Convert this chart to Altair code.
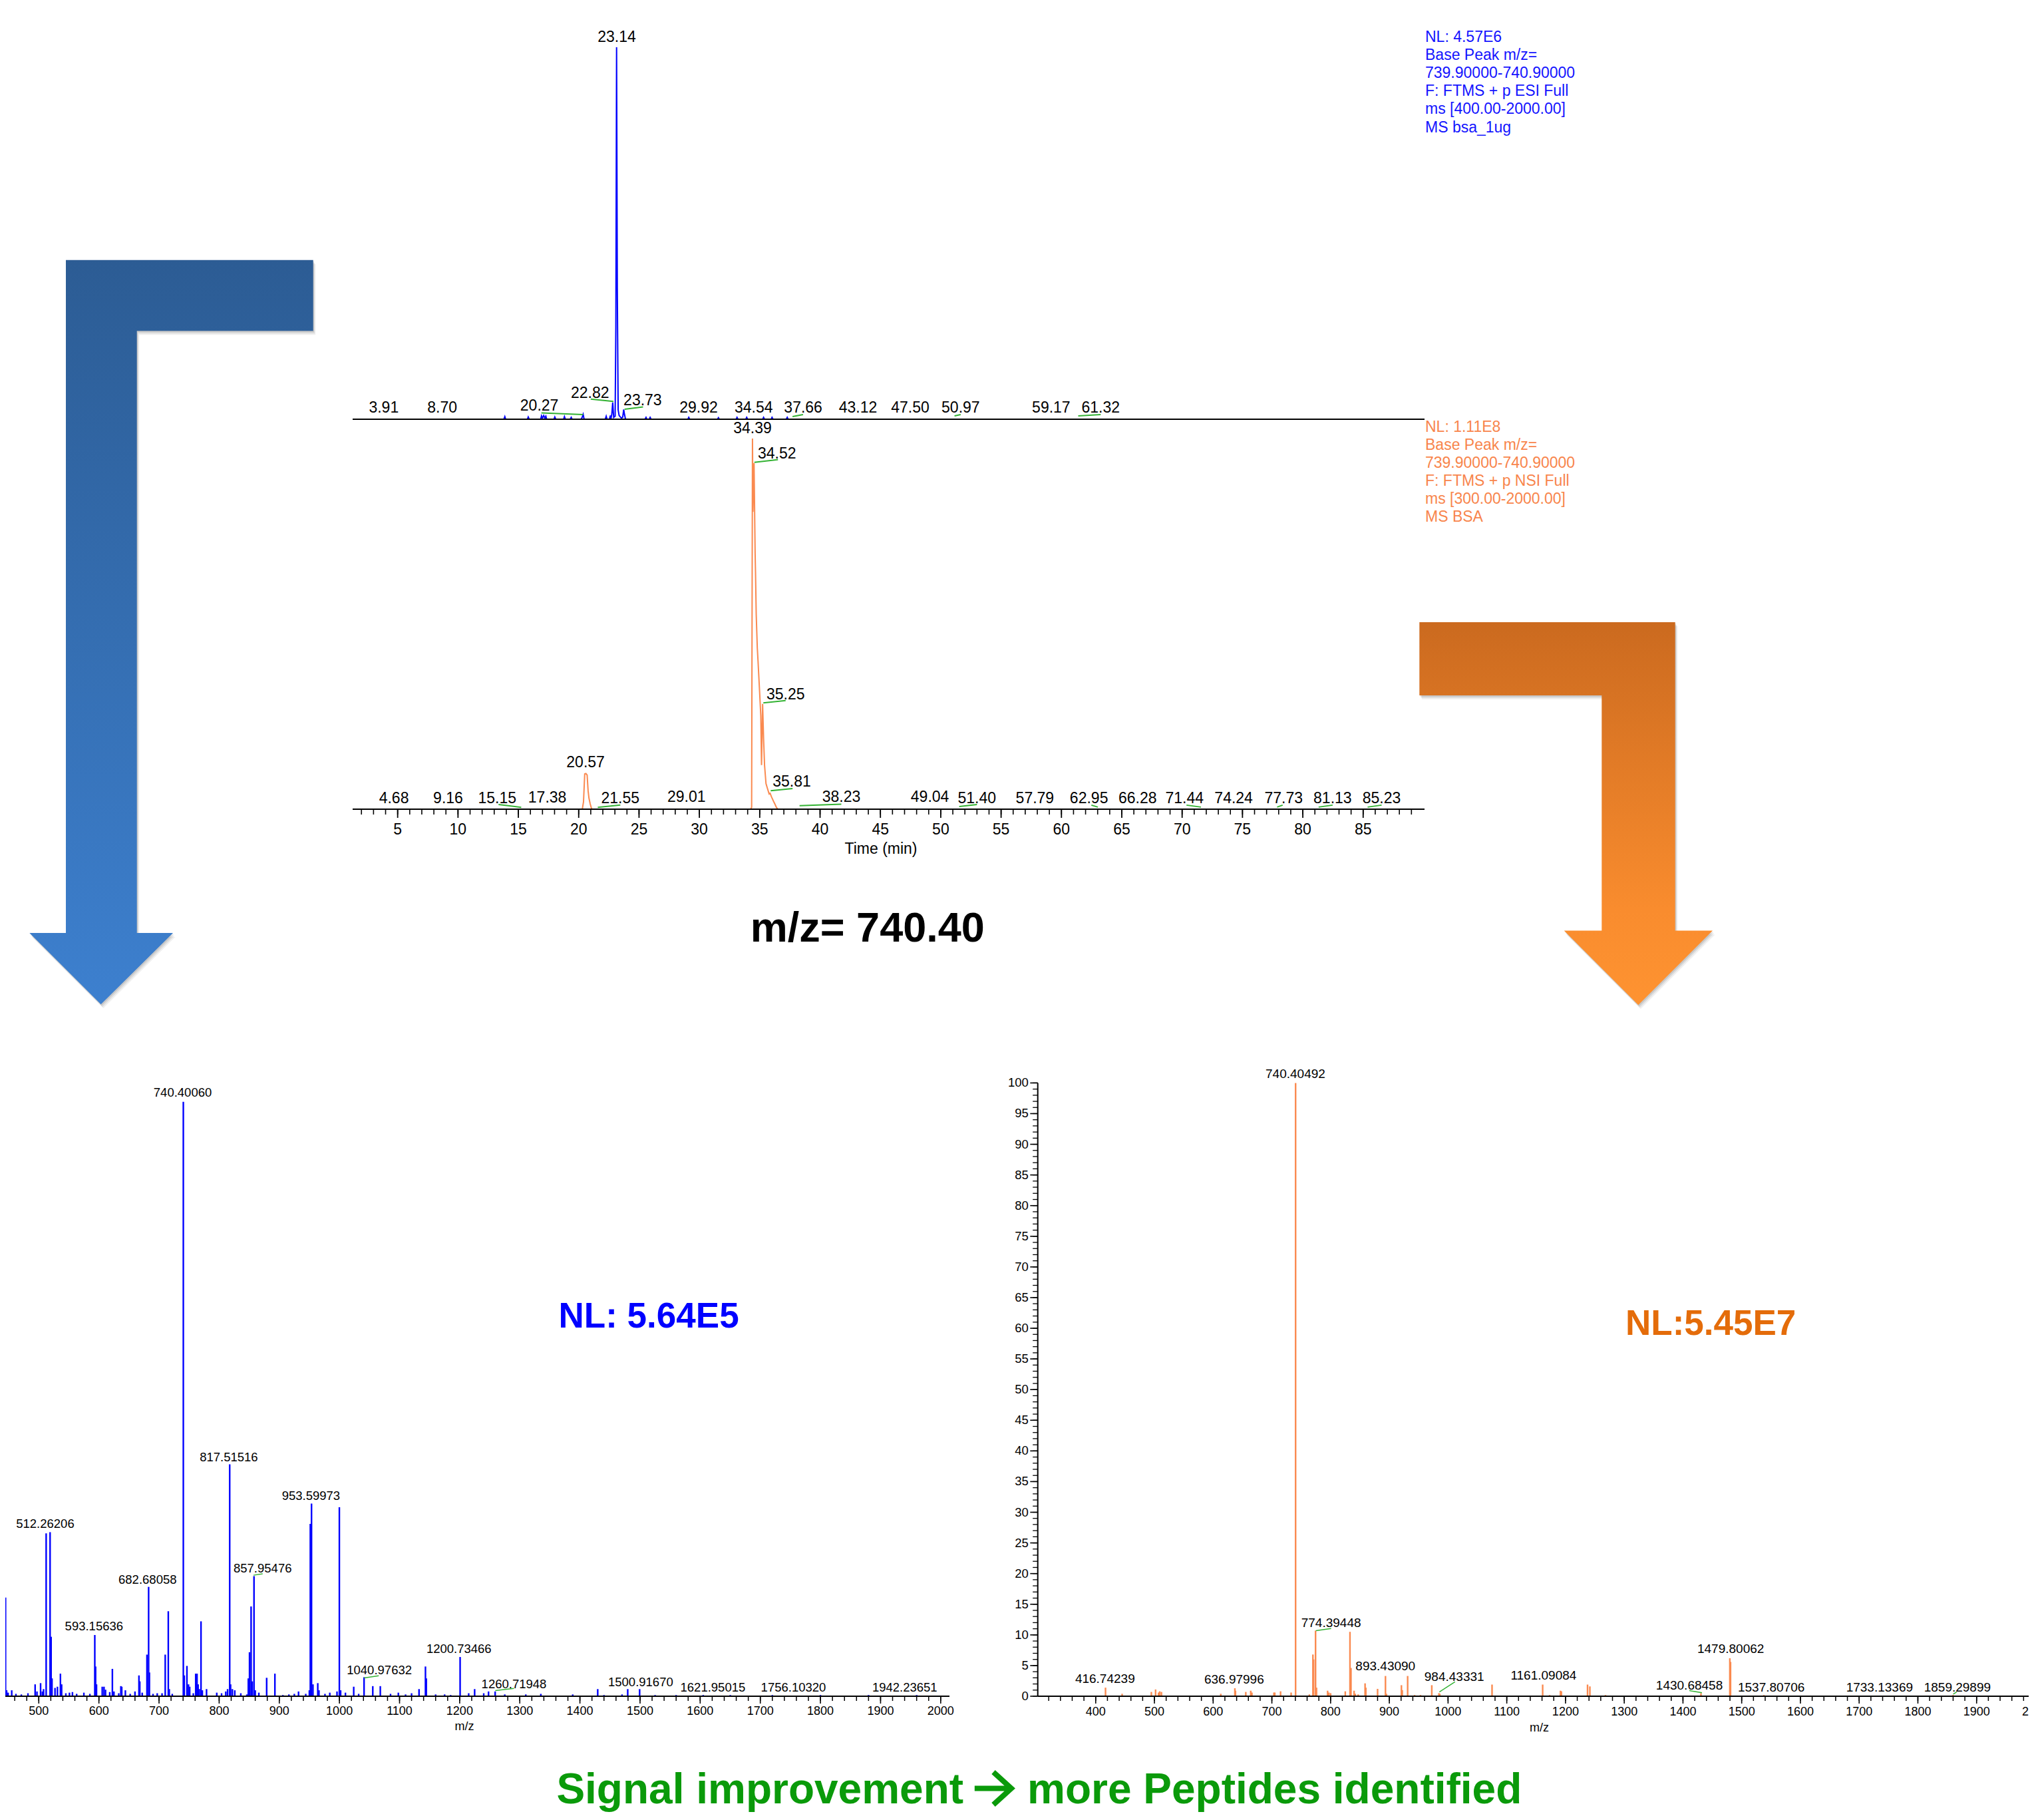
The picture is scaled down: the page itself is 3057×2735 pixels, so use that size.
import altair as alt
import pandas as pd

OFF = 8
W, H = 3041, 2719
FONT = "Liberation Sans"
BLUE = "#0000ff"
BLUE_TXT = "#1414ff"
ORANGE = "#fa8a50"
ORANGE_TXT = "#f8854c"
LEAD = "#33b233"
GREEN = "#0a9a0a"

# ---------------- data ----------------
# chromatogram traces (time in min, relative abundance %)
BLUE_T = [1.3, 13.80, 13.88, 13.95, 15.75, 15.82, 15.90, 16.85, 16.92, 17.00, 17.10, 17.20, 17.28, 17.35,
          17.95, 18.02, 18.10, 18.75, 18.82, 18.90, 19.30, 19.38, 19.45, 20.20, 20.30, 20.37, 20.45,
          22.20, 22.28, 22.35, 22.55, 22.62, 22.68, 22.75, 22.82, 22.90, 23.02, 23.08, 23.14, 23.20,
          23.27, 23.35, 23.45, 23.55, 23.65, 23.73, 23.80, 23.88, 25.50, 25.58, 25.65, 25.85, 25.92,
          26.00, 29.05, 29.12, 29.20, 31.50, 31.58, 31.65, 33.05, 33.12, 33.20, 33.85, 33.92, 34.00,
          35.25, 35.32, 35.40, 35.95, 36.02, 36.10, 37.20, 37.28, 37.35, 90.0]
BLUE_I = [0, 0, 0.7, 0, 0, 0.6, 0, 0, 0.9, 0.3, 1.0, 0.3, 0.8, 0,
          0, 0.6, 0, 0, 0.7, 0, 0, 0.5, 0, 0, 0.6, 1.3, 0,
          0, 0.8, 0, 0, 1.0, 0.2, 1.5, 4.5, 0.5, 0.8, 25, 100, 35,
          2.5, 1.0, 0.6, 0.3, 0.6, 2.6, 1.2, 0, 0, 0.5, 0, 0, 0.5,
          0, 0, 0.5, 0, 0, 0.4, 0, 0, 0.5, 0, 0, 0.5, 0,
          0, 0.5, 0, 0, 0.5, 0, 0, 0.5, 0, 0]

ORANGE_T = [1.3, 20.30, 20.40, 20.50, 20.60, 20.70, 20.78, 20.85, 20.95, 21.05, 21.10,
            34.25, 34.33, 34.40, 34.44, 34.53, 34.62, 34.65, 34.71, 34.80, 34.86, 34.97, 35.09,
            35.15, 35.24, 35.32, 35.40, 35.52, 35.63, 35.78, 35.86, 35.98, 36.15, 36.27, 36.38,
            36.50, 90.0]
ORANGE_I = [0, 0, 2.0, 9.5, 9.6, 9.2, 5.0, 3.0, 1.5, 0.3, 0,
            0, 0.5, 100, 80.2, 93.4, 68.9, 64.2, 52.5, 43.5, 40.0, 33.0, 25.2,
            11.9, 28.4, 19.0, 11.9, 6.9, 5.7, 4.1, 4.3, 3.3, 2.1, 1.3, 0.5,
            0, 0]

TOP_LABELS = ["3.91", "8.70", "20.27", "22.82", "23.14", "23.73", "29.92", "34.54", "37.66",
              "43.12", "47.50", "50.97", "59.17", "61.32"]
TOP_LABEL_T = [3.85, 8.69, 16.74, 20.94, 23.16, 25.3, 29.94, 34.5, 38.6, 43.14, 47.47, 51.65, 59.15, 63.25]
TOP_LABEL_R = [3.1, 3.1, 3.56, 7.0, 102.7, 4.96, 3.1, 3.1, 3.1, 3.1, 3.1, 3.1, 3.1, 3.1]
TOP_LEAD_T1 = [16.91, 21.0, 23.8, 37.72, 51.14, 61.39]
TOP_LEAD_R1 = [1.7, 5.4, 2.7, 0.73, 0.88, 0.88]
TOP_LEAD_T2 = [20.37, 22.88, 25.33, 38.59, 51.65, 63.25]
TOP_LEAD_R2 = [1.25, 4.8, 3.3, 1.25, 1.25, 1.25]

BOT_LABELS = ["4.68", "9.16", "15.15", "17.38", "20.57", "21.55", "29.01", "34.39", "34.52", "35.25",
              "35.81", "38.23", "49.04", "51.40", "57.79", "62.95", "66.28", "71.44", "74.24", "77.73",
              "81.13", "85.23"]
BOT_LABEL_T = [4.69, 9.18, 13.25, 17.4, 20.57, 23.45, 28.93, 34.4, 36.43, 37.15, 37.66, 41.76, 49.1,
               53.0, 57.8, 62.28, 66.31, 70.2, 74.27, 78.41, 82.47, 86.53]
BOT_LABEL_R = [2.87, 2.87, 2.87, 3.07, 12.6, 2.87, 3.2, 102.7, 95.9, 30.9, 7.36, 3.2, 3.2, 2.87, 2.87,
               2.87, 2.87, 2.87, 2.87, 2.87, 2.87, 2.87]
BOT_LEAD_T1 = [13.36, 21.58, 34.56, 35.30, 35.91, 38.3, 51.53, 62.48, 70.36, 77.87, 81.31, 85.37]
BOT_LEAD_R1 = [1.26, 0.48, 93.6, 28.7, 5.0, 0.95, 0.72, 1.1, 1.1, 0.56, 0.56, 0.56]
BOT_LEAD_T2 = [15.24, 23.45, 36.51, 37.15, 37.72, 41.76, 53.0, 63.02, 71.56, 78.33, 82.47, 86.53]
BOT_LEAD_R2 = [0.48, 1.11, 94.3, 29.3, 5.55, 1.35, 1.26, 0.56, 0.56, 1.1, 1.1, 1.1]

CHROM_TICKS = [5, 10, 15, 20, 25, 30, 35, 40, 45, 50, 55, 60, 65, 70, 75, 80, 85]
CHROM_MINOR = list(range(2, 90))

TOP_INFO = ["NL: 4.57E6", "Base Peak m/z=", "739.90000-740.90000", "F: FTMS + p ESI Full",
            "ms [400.00-2000.00]", "MS bsa_1ug"]
BOT_INFO = ["NL: 1.11E8", "Base Peak m/z=", "739.90000-740.90000", "F: FTMS + p NSI Full",
            "ms [300.00-2000.00]", "MS BSA"]

# left mass spectrum (m/z, relative abundance %)
LEFT_MZ = [441, 444.7, 446.5, 449, 455, 462, 471, 482, 493.9, 497, 503.0, 506, 508, 512.26, 518.8, 520.5,
           522, 527, 531, 536, 538, 545, 551, 556, 563, 575, 585, 593.16, 594.5, 596, 605.5, 608.5, 611,
           618, 622.4, 625, 633, 636.5, 638, 644, 652, 660, 666.6, 668, 672, 679.9, 682.68, 684, 690, 697,
           705, 710.3, 715.4, 717, 722, 740.40, 742, 746.4, 749, 751, 757, 761, 763.2, 765, 767, 769.8,
           772, 779, 796, 804, 811, 814, 817.52, 819, 822, 826, 836, 846, 848.5, 850.5, 853.1, 855,
           857.95, 860, 866, 879, 892.7, 906, 916, 925, 932, 944, 950, 951.6, 953.6, 956, 964, 966, 976,
           984, 996, 999.9, 1002, 1010, 1023.8, 1032, 1040.98, 1055.5, 1068, 1085, 1098, 1110, 1120,
           1132.4, 1143.1, 1144.5, 1160, 1175, 1185, 1200.73, 1215, 1224.9, 1240, 1248, 1259.0, 1275,
           1310, 1335, 1388, 1429.6, 1440, 1470, 1479.5, 1499.3, 1525, 1560, 1605, 1650, 1720, 1800,
           1880, 1960]
LEFT_INT = [0.5, 16.6, 1.0, 0.6, 1.0, 0.4, 0.3, 0.5, 2.0, 0.8, 2.2, 0.8, 1.2, 27.4, 27.6, 10.0,
            3.0, 1.4, 1.6, 3.8, 2.0, 0.5, 0.6, 0.7, 0.4, 0.6, 0.4, 10.3, 5.0, 2.0, 1.6, 1.6, 1.1,
            0.7, 4.6, 0.8, 0.5, 1.7, 1.6, 1.0, 0.4, 0.8, 3.5, 2.5, 0.6, 7.0, 18.4, 4.0, 0.4, 0.5,
            0.5, 7.0, 14.3, 1.2, 0.4, 100, 3.5, 5.1, 2.0, 1.6, 0.5, 3.8, 3.8, 2.0, 1.2, 12.6,
            1.0, 1.2, 0.6, 0.5, 0.8, 1.2, 39.0, 2.0, 1.2, 1.0, 0.5, 0.3, 3.0, 7.4, 15.1, 2.5,
            20.2, 1.0, 0.6, 3.1, 3.8, 0.2, 0.3, 0.4, 0.8, 0.4, 1.0, 29.0, 32.4, 2.0, 2.2, 1.0, 0.4,
            0.6, 0.8, 31.8, 1.0, 0.6, 1.6, 0.4, 3.2, 1.7, 1.7, 0.4, 0.6, 0.3, 0.5,
            1.2, 5.0, 3.0, 0.3, 0.3, 0.2, 6.6, 0.5, 1.2, 0.5, 0.8, 0.8, 0.3,
            0.3, 0.4, 0.3, 1.2, 0.2, 0.3, 1.2, 1.2, 0.2, 0.2, 0.2, 0.2, 0.2, 0.2,
            0.2, 0.2]
LEFT_LABELS = ["740.40060", "817.51516", "512.26206", "953.59973", "682.68058", "857.95476", "593.15636",
               "1200.73466", "1040.97632", "1260.71948", "1500.91670", "1621.95015", "1756.10320",
               "1942.23651"]
LEFT_LABEL_MZ = [739.3, 816.0, 510.7, 952.7, 680.9, 872.3, 591.9, 1198.8, 1066.4, 1290.3, 1501.0,
                 1621.1, 1755.1, 1940.2]
LEFT_LABEL_R = [101.5, 40.2, 29.0, 33.7, 19.6, 21.5, 11.75, 7.95, 4.4, 2.05, 2.35, 1.46, 1.46, 1.46]
LEFT_LEAD_M1 = [857.1, 1041.0, 1259.2]
LEFT_LEAD_R1 = [20.36, 3.08, 0.95]
LEFT_LEAD_M2 = [872.3, 1065.4, 1290.3]
LEFT_LEAD_R2 = [20.6, 3.45, 1.32]
LEFT_TICKS = ["500", "600", "700", "800", "900", "1000", "1100", "1200", "1300", "1400", "1500",
              "1600", "1700", "1800", "1900", "2000"]

# right mass spectrum
RIGHT_MZ = [416.74, 445, 494.8, 502, 507, 509, 512, 613, 636.98, 638, 655.6, 664, 666, 703.5, 705,
            714.8, 732.8, 740.40, 763.8, 769.9, 771, 774.39, 776, 794.9, 797, 800, 825, 833.0, 834.7,
            840, 842, 847, 858.7, 860, 880, 893.43, 895, 920.6, 922, 931.2, 943, 953, 972.3, 984.43,
            986, 1074.9, 1161.09, 1173, 1191.4, 1193, 1237.5, 1241.5, 1268, 1430.68, 1479.8, 1481,
            1537.8, 1860]
RIGHT_INT = [1.4, 0.4, 0.7, 1.1, 0.6, 0.8, 0.7, 0.4, 1.3, 0.9, 0.7, 0.9, 0.6, 0.6, 0.6,
             0.8, 0.6, 100, 0.3, 6.8, 6.0, 10.7, 1.4, 0.9, 0.6, 0.5, 0.8, 10.5, 4.6,
             0.9, 0.4, 0.3, 2.1, 1.4, 1.2, 3.3, 0.4, 1.8, 1.0, 3.3, 0.2, 0.2, 1.8, 0.5,
             0.4, 1.9, 1.9, 0.2, 0.9, 0.8, 1.9, 1.6, 0.2, 0.5, 6.2, 5.6,
             0.2, 0.2]
RIGHT_LABELS = ["740.40492", "774.39448", "893.43090", "984.43331", "416.74239", "636.97996",
                "1161.09084", "1430.68458", "1479.80062", "1537.80706", "1733.13369", "1859.29899"]
RIGHT_LABEL_MZ = [740.1, 800.9, 893.4, 1010.6, 415.9, 635.7, 1162.6, 1410.9, 1481.3, 1550.4, 1734.7, 1867.3]
RIGHT_LABEL_R = [101.4, 11.97, 4.84, 3.2, 2.84, 2.71, 3.34, 1.78, 7.7, 1.41, 1.41, 1.41]
RIGHT_LEAD_M1 = [775.0, 985.2, 1410.9, 1860.2]
RIGHT_LEAD_R1 = [10.7, 0.7, 0.92, 0.33]
RIGHT_LEAD_M2 = [800.9, 1011.8, 1432.3, 1866.0]
RIGHT_LEAD_R2 = [11.04, 2.34, 0.56, 0.7]
RIGHT_TICKS = ["400", "500", "600", "700", "800", "900", "1000", "1100", "1200", "1300", "1400",
               "1500", "1600", "1700", "1800", "1900", "2000"]
RIGHT_Y_TICKS = [0, 5, 10, 15, 20, 25, 30, 35, 40, 45, 50, 55, 60, 65, 70, 75, 80, 85, 90, 95, 100]


# ---------------- helpers ----------------
def P(v):
    return v - OFF


def sc(dom, r0, r1):
    return alt.Scale(domain=dom, range=[P(r0), P(r1)], nice=False, zero=False)


one = pd.DataFrame({"k": [0]})
layers = []


def text_at(txt, x, y, size, color="black", bold=False, align="center", baseline="middle"):
    return alt.Chart(one).mark_text(
        text=txt, font=FONT, fontSize=size, color=color, align=align, baseline=baseline,
        fontWeight="bold" if bold else "normal"
    ).encode(x=alt.value(P(x)), y=alt.value(P(y)))


def hline(x1, x2, y, width=2, color="black"):
    return alt.Chart(one).mark_rule(color=color, strokeWidth=width).encode(
        x=alt.value(P(x1)), x2=alt.value(P(x2)), y=alt.value(P(y)))


def symbol_path(polys):
    pts = [p for poly in polys for p in poly]
    xs_ = [v[0] for v in pts]
    ys_ = [v[1] for v in pts]
    cx = (min(xs_) + max(xs_)) / 2
    cy = (min(ys_) + max(ys_)) / 2
    side = max(max(xs_) - min(xs_), max(ys_) - min(ys_))
    r = side / 2
    parts = []
    for poly in polys:
        parts.append("M" + " L".join(f"{(x - cx) / r:.4f},{(y - cy) / r:.4f}" for x, y in poly))
    return parts, cx, cy, side


# ---------------- arrows ----------------
def arrow_layers(verts, stops):
    parts, cx, cy, side = symbol_path([verts])
    path = parts[0] + " Z"
    grad = {"gradient": "linear", "x1": 0, "y1": 0, "x2": 0, "y2": 1,
            "stops": [{"offset": o, "color": c} for o, c in stops]}
    out = []
    for d, op in [(6, 0.06), (4, 0.08), (2, 0.10)]:
        out.append(alt.Chart(one).mark_point(
            shape=path, size=side * side, filled=True, fill="#000000", opacity=op, strokeWidth=0
        ).encode(x=alt.value(P(cx + d * 0.6)), y=alt.value(P(cy + d))))
    out.append(alt.Chart(one).mark_point(
        shape=path, size=side * side, filled=True, fill=grad, opacity=1, fillOpacity=1, strokeWidth=0
    ).encode(x=alt.value(P(cx)), y=alt.value(P(cy))))
    return out


blue_arrow = [(99, 390.7), (470.7, 390.7), (470.7, 497.2), (205.7, 497.2), (205.7, 1402),
              (260, 1402), (151.7, 1509.3), (44.3, 1402), (99, 1402)]
orange_arrow = [(2133.3, 935), (2517.7, 935), (2517.7, 1398.4), (2574, 1398.4), (2462.3, 1510.3),
                (2350.7, 1398.4), (2407.3, 1398.4), (2407.3, 1045), (2133.3, 1045)]
layers += arrow_layers(blue_arrow, [(0, "#2c5c94"), (1, "#3d80cf")])
layers += arrow_layers(orange_arrow, [(0, "#cb6a1f"), (0.75, "#f98c2e"), (1, "#fe9331")])

# ---------------- chromatograms ----------------
XT = sc([1.27, 90.08], 530, 2140.9)
YTOP = sc([0, 100], 630, 71)
YBOT = sc([0, 100], 1216, 659)

top_df = pd.DataFrame({"t": BLUE_T, "r": BLUE_I})
layers.append(alt.Chart(top_df).mark_line(color=BLUE, strokeWidth=2).encode(
    x=alt.X("t:Q", scale=XT, axis=None), y=alt.Y("r:Q", scale=YTOP, axis=None)))
bot_df = pd.DataFrame({"t": ORANGE_T, "r": ORANGE_I})
layers.append(alt.Chart(bot_df).mark_line(color=ORANGE, strokeWidth=2).encode(
    x=alt.X("t:Q", scale=XT, axis=None), y=alt.Y("r:Q", scale=YBOT, axis=None)))

# baselines
layers.append(hline(530, 2141, 630))
layers.append(hline(530, 2141, 1216))

# leaders
for t1, r1, t2, r2, ysc in [(TOP_LEAD_T1, TOP_LEAD_R1, TOP_LEAD_T2, TOP_LEAD_R2, YTOP),
                            (BOT_LEAD_T1, BOT_LEAD_R1, BOT_LEAD_T2, BOT_LEAD_R2, YBOT)]:
    ldf = pd.DataFrame({"t1": t1, "r1": r1, "t2": t2, "r2": r2})
    layers.append(alt.Chart(ldf).mark_rule(color=LEAD, strokeWidth=2).encode(
        x=alt.X("t1:Q", scale=XT, axis=None), x2="t2:Q",
        y=alt.Y("r1:Q", scale=ysc, axis=None), y2="r2:Q"))

# peak labels
for labs, tt, rr, ysc in [(TOP_LABELS, TOP_LABEL_T, TOP_LABEL_R, YTOP),
                          (BOT_LABELS, BOT_LABEL_T, BOT_LABEL_R, YBOT)]:
    ldf = pd.DataFrame({"lab": labs, "t": tt, "r": rr})
    layers.append(alt.Chart(ldf).mark_text(font=FONT, fontSize=23, color="black", baseline="middle").encode(
        x=alt.X("t:Q", scale=XT, axis=None), y=alt.Y("r:Q", scale=ysc, axis=None), text="lab:N"))

# time axis ticks
minor_df = pd.DataFrame({"v": CHROM_MINOR})
layers.append(alt.Chart(minor_df).mark_rule(color="black", strokeWidth=1.6).encode(
    x=alt.X("v:Q", scale=XT, axis=None), y=alt.value(P(1216)), y2=alt.value(P(1224))))
major_df = pd.DataFrame({"v": CHROM_TICKS, "lab": [str(v) for v in CHROM_TICKS]})
layers.append(alt.Chart(major_df).mark_rule(color="black", strokeWidth=1.8).encode(
    x=alt.X("v:Q", scale=XT, axis=None), y=alt.value(P(1216)), y2=alt.value(P(1229))))
layers.append(alt.Chart(major_df).mark_text(font=FONT, fontSize=23, color="black", baseline="middle").encode(
    x=alt.X("v:Q", scale=XT, axis=None), y=alt.value(P(1247)), text="lab:N"))
layers.append(text_at("Time (min)", 1324, 1276, 23))

# info blocks
for lines, color, y0, y1 in [(TOP_INFO, BLUE_TXT, 56, 191.5), (BOT_INFO, ORANGE_TXT, 641.7, 777)]:
    idf = pd.DataFrame({"line": lines, "i": list(range(len(lines)))})
    layers.append(alt.Chart(idf).mark_text(font=FONT, fontSize=23, color=color, align="left",
                                           baseline="middle").encode(
        x=alt.value(P(2142)), y=alt.Y("i:Q", scale=sc([0, 5], y0, y1), axis=None), text="line:N"))

layers.append(text_at("m/z= 740.40", 1303.8, 1415, 63, bold=True, baseline="alphabetic"))

# ---------------- left spectrum ----------------
XL = sc([435.5, 2014.6], 0, 1427)
YL = sc([0, 100], 2549, 1655.7)
ldf = pd.DataFrame({"m": LEFT_MZ, "r": LEFT_INT})
layers.append(alt.Chart(ldf).mark_rule(color=BLUE, strokeWidth=2.4).encode(
    x=alt.X("m:Q", scale=XL, axis=None), y=alt.Y("r:Q", scale=YL, axis=None), y2=alt.datum(0)))
layers.append(hline(OFF, 1427, 2549))
lt_minor = pd.DataFrame({"v": list(range(440, 2001, 20))})
layers.append(alt.Chart(lt_minor).mark_rule(color="black", strokeWidth=1.5).encode(
    x=alt.X("v:Q", scale=XL, axis=None), y=alt.value(P(2549)), y2=alt.value(P(2556))))
lt_major = pd.DataFrame({"v": [int(s) for s in LEFT_TICKS], "lab": LEFT_TICKS})
layers.append(alt.Chart(lt_major).mark_rule(color="black", strokeWidth=1.6).encode(
    x=alt.X("v:Q", scale=XL, axis=None), y=alt.value(P(2549)), y2=alt.value(P(2560))))
layers.append(alt.Chart(lt_major).mark_text(font=FONT, fontSize=18, color="black", baseline="middle").encode(
    x=alt.X("v:Q", scale=XL, axis=None), y=alt.value(P(2572)), text="lab:N"))
layers.append(text_at("m/z", 698, 2595, 18))
lld = pd.DataFrame({"m1": LEFT_LEAD_M1, "r1": LEFT_LEAD_R1, "m2": LEFT_LEAD_M2, "r2": LEFT_LEAD_R2})
layers.append(alt.Chart(lld).mark_rule(color=LEAD, strokeWidth=1.5).encode(
    x=alt.X("m1:Q", scale=XL, axis=None), x2="m2:Q", y=alt.Y("r1:Q", scale=YL, axis=None), y2="r2:Q"))
llab = pd.DataFrame({"lab": LEFT_LABELS, "m": LEFT_LABEL_MZ, "r": LEFT_LABEL_R})
layers.append(alt.Chart(llab).mark_text(font=FONT, fontSize=18.5, color="black", baseline="middle").encode(
    x=alt.X("m:Q", scale=XL, axis=None), y=alt.Y("r:Q", scale=YL, axis=None), text="lab:N"))
layers.append(text_at("NL: 5.64E5", 839.6, 1995.3, 53, color="#0000ff", bold=True, align="left",
                      baseline="alphabetic"))

# ---------------- right spectrum ----------------
XR = sc([300, 2000], 1558.5, 3059)
YR = sc([0, 100], 2549, 1627.4)
rdf = pd.DataFrame({"m": RIGHT_MZ, "r": RIGHT_INT})
layers.append(alt.Chart(rdf).mark_rule(color=ORANGE, strokeWidth=2.4).encode(
    x=alt.X("m:Q", scale=XR, axis=None), y=alt.Y("r:Q", scale=YR, axis=None), y2=alt.datum(0)))
layers.append(hline(1559.7, W + OFF, 2549))
layers.append(alt.Chart(one).mark_rule(color="black", strokeWidth=2).encode(
    x=alt.value(P(1559.7)), y=alt.value(P(1627.4)), y2=alt.value(P(2549))))
ry_minor = pd.DataFrame({"v": list(range(0, 101))})
layers.append(alt.Chart(ry_minor).mark_rule(color="black", strokeWidth=1.3).encode(
    y=alt.Y("v:Q", scale=YR, axis=None), x=alt.value(P(1552.2)), x2=alt.value(P(1559.7))))
ry_major = pd.DataFrame({"v": RIGHT_Y_TICKS, "lab": [str(v) for v in RIGHT_Y_TICKS]})
layers.append(alt.Chart(ry_major).mark_rule(color="black", strokeWidth=1.6).encode(
    y=alt.Y("v:Q", scale=YR, axis=None), x=alt.value(P(1548.3)), x2=alt.value(P(1559.7))))
layers.append(alt.Chart(ry_major).mark_text(font=FONT, fontSize=18.5, color="black", align="right",
                                            baseline="middle").encode(
    y=alt.Y("v:Q", scale=YR, axis=None), x=alt.value(P(1545.8)), text="lab:N"))
rt_minor = pd.DataFrame({"v": list(range(320, 2001, 20))})
layers.append(alt.Chart(rt_minor).mark_rule(color="black", strokeWidth=1.5).encode(
    x=alt.X("v:Q", scale=XR, axis=None), y=alt.value(P(2549)), y2=alt.value(P(2556))))
rt_major = pd.DataFrame({"v": [int(s) for s in RIGHT_TICKS], "lab": RIGHT_TICKS})
layers.append(alt.Chart(rt_major).mark_rule(color="black", strokeWidth=1.6).encode(
    x=alt.X("v:Q", scale=XR, axis=None), y=alt.value(P(2549)), y2=alt.value(P(2560))))
layers.append(alt.Chart(rt_major).mark_text(font=FONT, fontSize=18, color="black", baseline="middle").encode(
    x=alt.X("v:Q", scale=XR, axis=None), y=alt.value(P(2573)), text="lab:N"))
layers.append(text_at("m/z", 2313.4, 2597, 18))
rld = pd.DataFrame({"m1": RIGHT_LEAD_M1, "r1": RIGHT_LEAD_R1, "m2": RIGHT_LEAD_M2, "r2": RIGHT_LEAD_R2})
layers.append(alt.Chart(rld).mark_rule(color=LEAD, strokeWidth=1.5).encode(
    x=alt.X("m1:Q", scale=XR, axis=None), x2="m2:Q", y=alt.Y("r1:Q", scale=YR, axis=None), y2="r2:Q"))
rlab = pd.DataFrame({"lab": RIGHT_LABELS, "m": RIGHT_LABEL_MZ, "r": RIGHT_LABEL_R})
layers.append(alt.Chart(rlab).mark_text(font=FONT, fontSize=19, color="black", baseline="middle").encode(
    x=alt.X("m:Q", scale=XR, axis=None), y=alt.Y("r:Q", scale=YR, axis=None), text="lab:N"))
layers.append(text_at("NL:5.45E7", 2443, 2006, 53, color="#e46c0a", bold=True, align="left",
                      baseline="alphabetic"))

# ---------------- bottom message ----------------
MSG_BASE = 2710
layers.append(text_at("Signal improvement", 836.4, MSG_BASE, 64, color=GREEN, bold=True, align="left",
                      baseline="alphabetic"))
layers.append(text_at("more Peptides identified", 1544, MSG_BASE, 64, color=GREEN, bold=True, align="left",
                      baseline="alphabetic"))
# the arrow glyph between the two phrases, drawn as a stroked symbol
glyph_parts, gcx, gcy, gside = symbol_path([
    [(1464.8, MSG_BASE - 22.5), (1516, MSG_BASE - 22.5)],
    [(1493, MSG_BASE - 47), (1520, MSG_BASE - 22.5), (1493, MSG_BASE + 2)],
])
layers.append(alt.Chart(one).mark_point(
    shape=" ".join(glyph_parts), size=gside * gside, filled=False, stroke=GREEN, strokeWidth=8,
    opacity=1, strokeJoin="miter", strokeCap="butt"
).encode(x=alt.value(P(gcx)), y=alt.value(P(gcy))))

chart = alt.layer(*layers).resolve_scale(x="independent", y="independent").properties(
    width=W, height=H, padding=0, autosize=alt.AutoSizeParams(type="none")
).configure_view(stroke=None)

chart.save("out.html", embed_options={"renderer": "svg", "actions": False})
